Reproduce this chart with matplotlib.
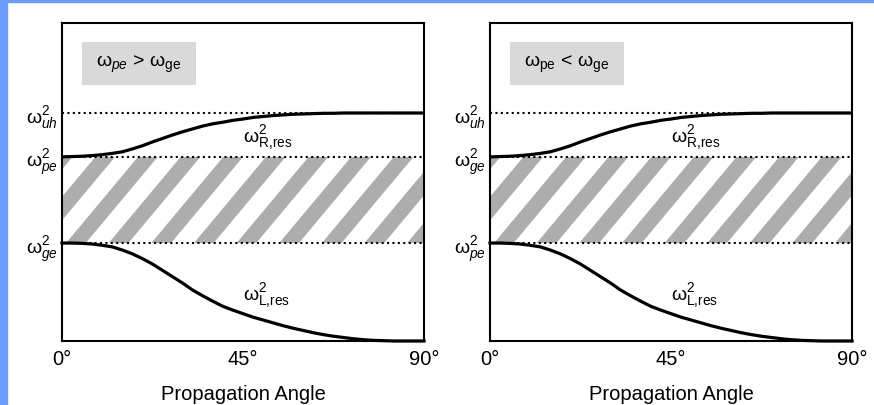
import numpy as np
import matplotlib.pyplot as plt
from matplotlib.patches import Polygon, Rectangle

plt.rcParams['font.family'] = ['Liberation Sans', 'DejaVu Sans']
plt.rcParams['mathtext.fontset'] = 'custom'
plt.rcParams['mathtext.rm'] = 'Liberation Sans'
plt.rcParams['mathtext.it'] = 'Liberation Sans:italic'
plt.rcParams['mathtext.bf'] = 'Liberation Sans:bold'
plt.rcParams['mathtext.sf'] = 'Liberation Sans'

# propagation angle (deg), sampled every 2.5 deg
angle = np.arange(0, 92.5, 2.5)
# upper resonance curve (axis 0..1)
r_res = [0.579, 0.580, 0.581, 0.583, 0.586, 0.590, 0.595, 0.604, 0.614, 0.626,
         0.637, 0.648, 0.658, 0.667, 0.676, 0.683, 0.688, 0.694, 0.698, 0.703,
         0.706, 0.709, 0.711, 0.713, 0.714, 0.715, 0.716, 0.716, 0.717, 0.717,
         0.717, 0.717, 0.717, 0.717, 0.717, 0.717, 0.717]
# lower resonance curve
l_res = [0.308, 0.308, 0.307, 0.305, 0.301, 0.296, 0.286, 0.274, 0.259, 0.242,
         0.222, 0.202, 0.182, 0.160, 0.142, 0.125, 0.109, 0.097, 0.086, 0.075,
         0.066, 0.057, 0.048, 0.040, 0.033, 0.026, 0.020, 0.015, 0.011, 0.007,
         0.004, 0.002, 0.001, 0.000, 0.000, 0.000, 0.000]

levels = [0.717, 0.579, 0.308]
xticks = [0, 45, 90]
xtick_labels = ['0°', '45°', '90°']

left_ylabels = [r'$\mathrm{\omega}^2_{uh}$', r'$\mathrm{\omega}^2_{pe}$', r'$\mathrm{\omega}^2_{ge}$']
right_ylabels = [r'$\mathrm{\omega}^2_{uh}$', r'$\mathrm{\omega}^2_{ge}$', r'$\mathrm{\omega}^2_{pe}$']
left_box = r'$\mathrm{\omega}_{pe}$ > $\mathrm{\omega}_{\mathrm{ge}}$'
right_box = r'$\mathrm{\omega}_{\mathrm{pe}}$ < $\mathrm{\omega}_{\mathrm{ge}}$'
r_label = r'$\mathrm{\omega}^2_{\mathrm{R{,}res}}$'
l_label = r'$\mathrm{\omega}^2_{\mathrm{L{,}res}}$'

fig = plt.figure(figsize=(8.74, 4.06), dpi=100)
fig.patches.append(Rectangle((0, 0), 7 / 874, 1, transform=fig.transFigure,
                             color='#6b9bfc', zorder=10))
fig.patches.append(Rectangle((0, 1 - 3 / 406), 1, 3 / 406, transform=fig.transFigure,
                             color='#6b9bfc', zorder=10))

stripe_col = '#adadad'
# stripe geometry in degrees along x (spacing, width, lean over the band, phase)
sp, wd, lean, ph = 10.6, 4.9, 17.9, 1.0
for left, ylabels, boxtxt in [(62, left_ylabels, left_box), (490, right_ylabels, right_box)]:
    ax = fig.add_axes([left / 874, 1 - 342 / 406, 362 / 874, 318 / 406])
    ax.set_xlim(0, 90)
    ax.set_ylim(0, 1)

    # diagonal stripes between the two middle levels
    band = Rectangle((0, levels[2]), 90, levels[1] - levels[2], fc='none', ec='none')
    ax.add_patch(band)
    for k in range(-3, 10):
        xb = ph + k * sp
        st = Polygon([(xb, levels[2]), (xb + wd, levels[2]),
                      (xb + wd + lean, levels[1]), (xb + lean, levels[1])],
                     closed=True, fc=stripe_col, ec='none', zorder=1)
        ax.add_patch(st)
        st.set_clip_path(band)

    ax.hlines(levels, 0, 90, colors='black', linestyles=(0, (1, 1.6)), lw=1.5, zorder=3)
    ax.plot(angle, r_res, color='black', lw=2.3, zorder=4)
    ax.plot(angle, l_res, color='black', lw=2.3, zorder=4, clip_on=False)

    ax.text(45, 0.629, r_label, fontsize=14, ha='left', va='baseline')
    ax.text(45, 0.132, l_label, fontsize=14, ha='left', va='baseline')

    ax.add_patch(Rectangle((0.055, 0.805), 0.315, 0.135, transform=ax.transAxes,
                           fc='#d9d9d9', ec='none'))
    ax.text(0.2125, 0.872, boxtxt, transform=ax.transAxes, fontsize=14,
            ha='center', va='center')

    ax.set_yticks(levels)
    ax.set_yticklabels(ylabels, fontsize=14)
    ax.set_xticks(xticks)
    ax.set_xticklabels(xtick_labels, fontsize=14.5)
    ax.tick_params(length=0, axis='x', pad=6)
    ax.tick_params(length=0, axis='y', pad=3)
    ax.set_xlabel('Propagation Angle', fontsize=14.5, labelpad=11)
    for s in ax.spines.values():
        s.set_linewidth(1.5)

fig.savefig('out.png', dpi=100)
